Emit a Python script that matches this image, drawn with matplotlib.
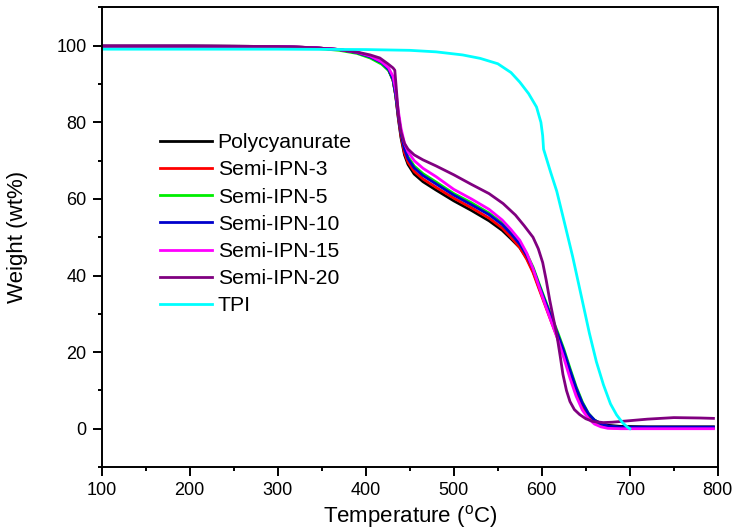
import matplotlib
matplotlib.use("Agg")
import matplotlib.pyplot as plt
from matplotlib.ticker import MultipleLocator

plt.rcParams['font.family'] = ['Liberation Sans', 'DejaVu Sans']
plt.rcParams['mathtext.default'] = 'regular'

# ---------------- data ----------------
labels = ["Polycyanurate", "Semi-IPN-3", "Semi-IPN-5", "Semi-IPN-10",
          "Semi-IPN-15", "Semi-IPN-20", "TPI"]
colors = ["#000000", "#ff0000", "#00ee00", "#0000cc", "#ff00ff", "#800080", "#00ffff"]

T_poly = [100, 200, 300, 340, 370, 390, 405, 418, 426, 431, 434, 437, 440, 444, 448,
          455, 465, 480, 500, 520, 540, 555, 565, 575, 583, 590, 597, 604, 611, 618,
          625, 632, 639, 646, 653, 660, 667, 675, 690, 720, 760, 795]

w_polycyanurate = [99.9, 99.9, 99.8, 99.5, 99.0, 98.3, 97.2, 95.6, 93.8, 91.0, 87.0, 81.0,
                   76.0, 71.5, 69.0, 66.5, 64.5, 62.3, 59.5, 57.0, 54.3, 51.8, 49.6, 47.3,
                   44.5, 41.2, 36.8, 32.5, 28.2, 24.0, 19.5, 14.5, 10.0, 6.3, 3.7, 2.2,
                   1.4, 0.9, 0.6, 0.5, 0.5, 0.5]
w_ipn3 = [99.9, 99.9, 99.8, 99.5, 99.0, 98.2, 97.1, 95.5, 93.7, 91.0, 87.0, 81.3,
          76.5, 72.0, 69.6, 67.2, 65.2, 63.0, 60.2, 57.7, 55.0, 52.4, 50.0, 47.3,
          44.2, 40.8, 36.4, 32.1, 27.8, 23.6, 19.1, 14.1, 9.6, 5.9, 3.3, 1.7,
          0.8, 0.3, 0.1, 0.1, 0.1, 0.1]
w_ipn5 = [99.9, 99.9, 99.8, 99.4, 98.8, 98.0, 96.8, 95.2, 93.5, 91.0, 87.3, 82.0,
          77.5, 73.3, 71.0, 68.6, 66.6, 64.4, 61.4, 59.0, 56.3, 53.7, 51.3, 48.6,
          45.6, 42.2, 37.8, 33.5, 29.3, 25.2, 20.8, 15.8, 11.0, 7.0, 4.0, 2.2,
          1.2, 0.6, 0.3, 0.3, 0.3, 0.3]
w_ipn10 = [99.9, 99.9, 99.8, 99.5, 99.0, 98.2, 97.1, 95.6, 93.8, 91.2, 87.3, 81.8,
           77.2, 73.0, 70.5, 68.1, 66.1, 63.9, 61.0, 58.5, 55.9, 53.3, 50.9, 48.2,
           45.2, 41.8, 37.4, 33.1, 28.9, 24.7, 20.3, 15.3, 10.6, 6.7, 3.9, 2.2,
           1.3, 0.7, 0.4, 0.4, 0.4, 0.4]
w_ipn15 = [99.9, 99.9, 99.8, 99.5, 99.0, 98.3, 97.3, 95.8, 94.2, 92.0, 88.5, 83.0,
           78.5, 74.5, 72.3, 70.0, 68.0, 65.8, 62.5, 60.0, 57.3, 54.5, 52.0, 49.2,
           45.8, 41.8, 37.0, 32.3, 27.8, 23.4, 18.5, 13.2, 8.5, 4.9, 2.6, 1.2,
           0.5, 0.1, 0.0, 0.0, 0.0, 0.0]

T_ipn20 = [100, 200, 300, 340, 370, 393, 405, 416, 425, 431, 433, 435, 437, 440, 444,
           448, 455, 465, 480, 500, 520, 540, 556, 570, 580, 590, 596, 601, 605, 609, 613,
           617, 621, 624, 628, 632, 637, 643, 650, 658, 670, 680, 700, 720, 750, 780, 795]
w_ipn20 = [99.9, 99.9, 99.8, 99.5, 99.0, 98.2, 97.6, 96.8, 95.3, 94.2, 93.6, 88.0,
           82.0, 77.5, 74.5, 73.0, 71.5, 70.2, 68.6, 66.3, 63.8, 61.4, 58.8, 55.8,
           53.0, 50.0, 47.0, 43.4, 38.8, 33.6, 29.0, 24.6, 18.8, 14.2, 10.0, 7.1, 5.0,
           3.7, 2.6, 1.9, 1.6, 1.7, 2.1, 2.5, 2.9, 2.8, 2.7]

T_tpi = [100, 200, 300, 400, 450, 480, 510, 530, 550, 565, 575, 585, 594, 599, 601,
         602, 610, 617, 625, 635, 645, 654, 662, 670, 678, 685, 692, 698, 700]
w_tpi = [99.1, 99.1, 99.1, 99.0, 98.8, 98.4, 97.6, 96.7, 95.3, 93.0, 90.5, 87.5, 84.0,
         80.0, 76.5, 73.0, 67.0, 62.0, 54.5, 45.0, 34.5, 25.0, 17.5, 11.5, 6.5, 3.6,
         1.5, 0.3, 0.0]

series_T = [T_poly, T_poly, T_poly, T_poly, T_poly, T_ipn20, T_tpi]
series_w = [w_polycyanurate, w_ipn3, w_ipn5, w_ipn10, w_ipn15, w_ipn20, w_tpi]

x_ticks = [100, 200, 300, 400, 500, 600, 700, 800]
y_ticks = [0, 20, 40, 60, 80, 100]

# ---------------- figure ----------------
fig = plt.figure(figsize=(7.37, 5.31), dpi=100)
ax = fig.add_axes([0.138, 0.1205, 0.836, 0.8655])

for T, w, lab, c in zip(series_T, series_w, labels, colors):
    ax.plot(T, w, color=c, lw=2.0, label=lab, solid_joinstyle='round')

ax.set_xlim(100, 800)
ax.set_ylim(-10, 110)
ax.set_xticks(x_ticks)
ax.set_yticks(y_ticks)
ax.xaxis.set_minor_locator(MultipleLocator(50))
ax.yaxis.set_minor_locator(MultipleLocator(10))
ax.tick_params(which='both', direction='out', top=False, right=False, width=1.4,
               labelsize=13, pad=4.5)
ax.tick_params(which='major', length=6.5)
ax.tick_params(which='minor', length=3.2)
for s in ax.spines.values():
    s.set_linewidth(1.4)

ax.set_xlabel("Temperature ($^{o}$C)", fontsize=16, labelpad=3)
ax.set_ylabel("Weight (wt%)", fontsize=16, labelpad=20)

leg = ax.legend(loc='upper left', bbox_to_anchor=(0.081, 0.745), frameon=False,
                fontsize=15.2, handlelength=2.45, handletextpad=0.28,
                labelspacing=0.39, borderaxespad=0, borderpad=0.4)

fig.savefig("out.png", dpi=100)
